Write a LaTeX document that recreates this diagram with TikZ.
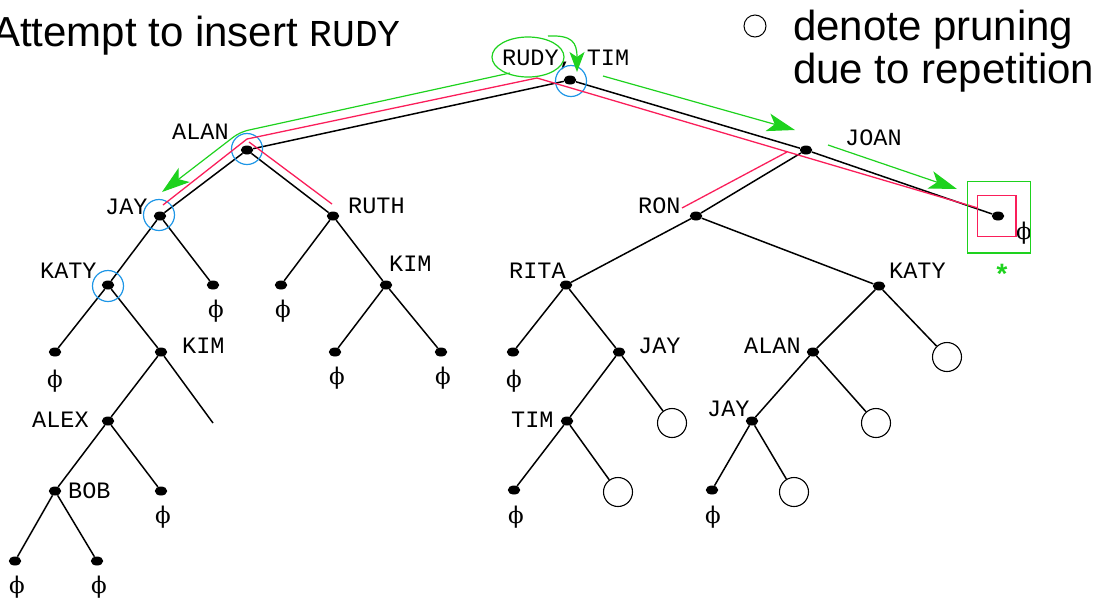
\documentclass[tikz,border=0pt]{standalone}
\usepackage{fontspec}
\setsansfont{Liberation Sans}
\setmonofont{Liberation Mono}
\newfontfamily\phifont{DejaVu Serif}
\usetikzlibrary{shapes.geometric,arrows.meta}
\definecolor{gr}{RGB}{30,210,30}
\definecolor{pk}{RGB}{250,30,90}
\definecolor{bl}{RGB}{30,150,230}
\begin{document}
\begin{tikzpicture}[x=1pt,y=-1pt,
  dot/.style={ellipse,fill=black,inner sep=0pt,minimum width=12.5pt,minimum height=9pt},
  prune/.style={circle,draw=black,line width=1.1pt,minimum size=29pt,inner sep=0pt},
  edge/.style={line width=1.5pt},
  lab/.style={font=\fontsize{23.5}{24}\ttfamily,inner sep=0pt,anchor=base west},
  phi/.style={font=\fontsize{23}{23}\phifont,inner sep=0pt},
  pinkline/.style={draw=pk,line width=1.3pt},
  greenline/.style={draw=gr,line width=1.2pt},
  garrow/.style={greenline,-{Stealth[length=28pt,width=18pt,inset=7pt]}},
  bcirc/.style={circle,draw=bl,line width=1.2pt,minimum size=31pt,inner sep=0pt},
  big/.style={font=\fontsize{42}{42}\sffamily,inner sep=0pt},
]
\useasboundingbox (0,0) rectangle (1109,598);

% ---------- title and legend ----------
\node[big,anchor=base east] (title) at (401,46) {Attempt to insert {\fontsize{38}{38}\ttfamily RUDY}};
\node[circle,draw=black,line width=1pt,minimum size=22pt,inner sep=0pt] (legc) at (755,26) {};
\node[big,anchor=base west] (leg1) at (793,40) {denote pruning};
\node[big,anchor=base west] (leg2) at (793,83) {due to repetition};

% ---------- tree nodes ----------
\node[dot] (root) at (570,80) {};
\node[dot] (alan) at (247,150) {};
\node[dot] (jay) at (160,216) {};
\node[dot] (ruth) at (333,216) {};
\node[dot] (katyl) at (108,285) {};
\node[dot] (jayr) at (213,285) {};
\node[dot] (katyll) at (55,352) {};
\node[dot] (kiml) at (161,352) {};
\coordinate (kimlr) at (213,423);
\node[dot] (alex) at (108,421) {};
\node[dot] (bob) at (55,491) {};
\node[dot] (alexr) at (161,491) {};
\node[dot] (bobl) at (15,561) {};
\node[dot] (bobr) at (97,561) {};
\node[dot] (ruthl) at (281,285) {};
\node[dot] (kimr) at (386,285) {};
\node[dot] (kimrl) at (335,352) {};
\node[dot] (kimrr) at (441,352) {};

\node[dot] (joan) at (806,150) {};
\node[dot] (joanr) at (998,216) {};
\node[dot] (ron) at (696,216) {};
\node[dot] (rita) at (566,285) {};
\node[dot] (katyr) at (879,286) {};
\node[dot] (rital) at (513,352) {};
\node[dot] (jayb) at (619,352) {};
\node[dot] (tim) at (567,421) {};
\node[prune] (c1) at (672,423) {};
\node[dot] (timl) at (514,490) {};
\node[prune] (c2) at (618,492) {};
\node[dot] (alanr) at (813,352) {};
\node[prune] (c3) at (947,357) {};
\node[dot] (jayc) at (752,421) {};
\node[prune] (c4) at (876,423) {};
\node[dot] (jaycl) at (712,490) {};
\node[prune] (c5) at (794,492) {};

% ---------- edges ----------
\foreach \a/\b in {root/alan,root/joan,joan/joanr,alan/jay,alan/ruth,jay/katyl,jay/jayr,
  katyl/katyll,katyl/kiml,kiml/alex,kiml/kimlr,alex/bob,alex/alexr,bob/bobl,bob/bobr,
  ruth/ruthl,ruth/kimr,kimr/kimrl,kimr/kimrr,
  joan/ron,ron/rita,ron/katyr,rita/rital,rita/jayb,jayb/tim,jayb/c1,tim/timl,tim/c2,
  katyr/alanr,katyr/c3,alanr/jayc,alanr/c4,jayc/jaycl,jayc/c5}
  \draw[edge] (\a) -- (\b);

% ---------- labels ----------
\node[lab] (lrudy) at (502,65) {RUDY, TIM};
\node[lab] (lalan) at (172,139) {ALAN};
\node[lab] (ljay) at (105,214) {JAY};
\node[lab] (lruth) at (348,213) {RUTH};
\node[lab] (lkaty) at (40,278) {KATY};
\node[lab] (lkim) at (182,353) {KIM};
\node[lab] (lalex) at (32,427) {ALEX};
\node[lab] (lbob) at (68,498) {BOB};
\node[lab] (lkim2) at (389,271) {KIM};
\node[lab] (ljoan) at (845,145) {JOAN};
\node[lab] (lron) at (638,213) {RON};
\node[lab] (lrita) at (509,278) {RITA};
\node[lab] (ljay2) at (638,353) {JAY};
\node[lab] (ltim) at (511,427) {TIM};
\node[lab] (lkaty2) at (889,278) {KATY};
\node[lab] (lalan2) at (744,353) {ALAN};
\node[lab] (ljay3) at (707,416) {JAY};

% ---------- phi leaves ----------
\node[phi] (p1) at (216,311) {ϕ};
\node[phi] (p2) at (55,381) {ϕ};
\node[phi] (p3) at (163,517) {ϕ};
\node[phi] (p4) at (17,587) {ϕ};
\node[phi] (p5) at (99,587) {ϕ};
\node[phi] (p6) at (283,311) {ϕ};
\node[phi] (p7) at (337,378) {ϕ};
\node[phi] (p8) at (443,378) {ϕ};
\node[phi] (p9) at (1024,233) {ϕ};
\node[phi] (p10) at (514,381) {ϕ};
\node[phi] (p11) at (516,517) {ϕ};
\node[phi] (p12) at (713,517) {ϕ};

% ---------- blue circles ----------
\node[bcirc] (broot) at (571,81) {};
\node[bcirc] (balan) at (247,149) {};
\node[bcirc] (bjay) at (159,215) {};
\node[bcirc] (bkaty) at (108,286) {};

% ---------- pink path ----------
\coordinate (pa) at (163,205);
\coordinate (pb) at (247,139);
\coordinate (pc) at (537,78);
\coordinate (pd) at (978,208);
\coordinate (pe) at (249,142);
\coordinate (pf) at (332,204);
\coordinate (pg) at (682,208);
\coordinate (ph) at (787,152);
\draw[pinkline] (pa) -- (pb) -- (pc) -- (pd);
\draw[pinkline] (pe) -- (pf);
\draw[pinkline] (pg) -- (ph);
\node[draw=pk,line width=1.3pt,minimum width=38.7pt,minimum height=41pt,inner sep=0pt] (psq) at (996.7,216.2) {};
\node[draw=gr,line width=1.2pt,minimum width=63.4pt,minimum height=71.3pt,inner sep=0pt] (gsq) at (999,217.4) {};
\node[text=gr,font=\fontsize{28}{28}\ttfamily\bfseries,inner sep=0pt,anchor=base] (star) at (1002,284) {*};

% ---------- green path ----------
\node[ellipse,draw=gr,line width=1.2pt,minimum width=72pt,minimum height=40pt,inner sep=0pt] (rudyell) at (528,57) {};
\coordinate (ga) at (510,73);
\coordinate (gb) at (240,132);
\coordinate (gc) at (162,192);
\coordinate (gd) at (603,76);
\coordinate (ge) at (795,130);
\coordinate (gf) at (828,145);
\coordinate (gg) at (957,189);
\coordinate (gh) at (548,36);
\coordinate (gi) at (577,72);
\draw[garrow,rounded corners=8pt] (ga) -- (gb) -- (gc);
\draw[garrow] (gd) -- (ge);
\draw[garrow] (gf) -- (gg);
\draw[greenline,-{Stealth[length=20pt,width=15pt,inset=5pt]}] (gh) .. controls (572,35) and (577,42) .. (gi);
\end{tikzpicture}
\end{document}
